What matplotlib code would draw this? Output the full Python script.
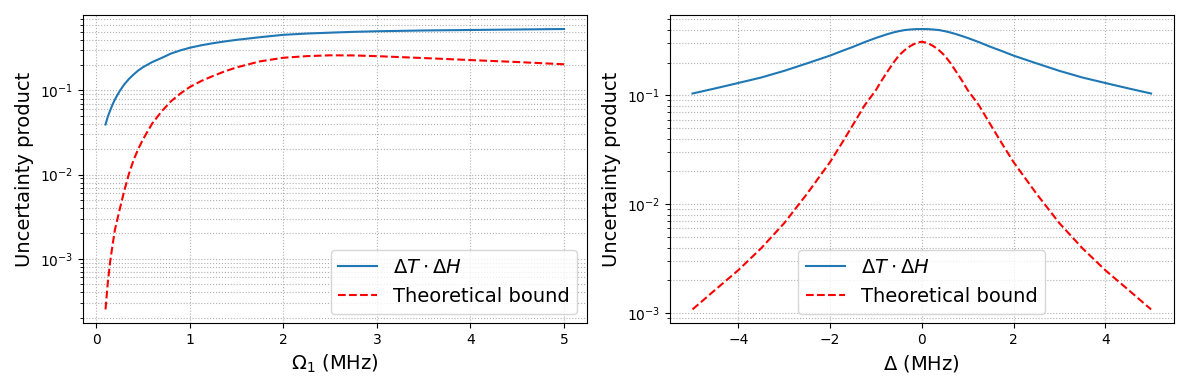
import matplotlib
matplotlib.use('Agg')
import matplotlib.pyplot as plt

# left panel: sweep of Rabi frequency Omega_1 (MHz)
omega = [0.1, 0.125, 0.15, 0.175, 0.2, 0.25, 0.3, 0.35, 0.4, 0.45, 0.5, 0.6, 0.7,
         0.8, 0.9, 1.0, 1.125, 1.25, 1.375, 1.5, 1.75, 2.0, 2.25, 2.5, 2.75,
         3.0, 3.5, 4.0, 4.5, 5.0]
product_omega = [0.0394, 0.049, 0.058, 0.068, 0.078, 0.098, 0.118, 0.137, 0.155,
                 0.173, 0.189, 0.218, 0.244, 0.275, 0.30, 0.322, 0.345, 0.365,
                 0.383, 0.40, 0.43, 0.459, 0.475, 0.487, 0.498, 0.506, 0.517,
                 0.524, 0.531, 0.538]
bound_omega = [2.5e-4, 5.3e-4, 9.3e-4, 1.45e-3, 2.2e-3, 3.8e-3, 6.4e-3, 0.0102,
               0.0149, 0.0202, 0.0262, 0.0407, 0.0565, 0.0745, 0.092, 0.11,
               0.13, 0.149, 0.169, 0.188, 0.222, 0.245, 0.256, 0.262, 0.261,
               0.256, 0.243, 0.230, 0.218, 0.205]

# right panel: sweep of detuning Delta (MHz)
delta = [-5.0, -4.5, -4.0, -3.5, -3.0, -2.5, -2.0, -1.75, -1.5, -1.25, -1.0,
         -0.875, -0.75, -0.625, -0.5, -0.375, -0.25, -0.125, 0.0, 0.125, 0.25,
         0.375, 0.5, 0.625, 0.75, 0.875, 1.0, 1.25, 1.5, 1.75, 2.0, 2.5, 3.0,
         3.5, 4.0, 4.5, 5.0]
product_delta = [0.104, 0.116, 0.130, 0.146, 0.168, 0.197, 0.232, 0.255, 0.279,
                 0.308, 0.337, 0.351, 0.365, 0.378, 0.389, 0.398, 0.403, 0.406,
                 0.407, 0.406, 0.403, 0.398, 0.389, 0.378, 0.365, 0.351, 0.337,
                 0.308, 0.279, 0.255, 0.232, 0.197, 0.168, 0.146, 0.130, 0.116,
                 0.104]
bound_delta = [1.08e-3, 1.64e-3, 2.48e-3, 3.95e-3, 6.7e-3, 0.0125, 0.0244, 0.036,
               0.0537, 0.0806, 0.112, 0.137, 0.165, 0.198, 0.232, 0.26, 0.284,
               0.303, 0.311, 0.303, 0.284, 0.26, 0.232, 0.198, 0.165, 0.137,
               0.112, 0.0806, 0.0537, 0.036, 0.0244, 0.0125, 6.7e-3, 3.95e-3,
               2.48e-3, 1.64e-3, 1.08e-3]

fig, (ax1, ax2) = plt.subplots(1, 2, figsize=(11.89, 3.9), dpi=100)

ax1.plot(omega, product_omega, '-', color='tab:blue', label=r'$\Delta T \cdot \Delta H$')
ax1.plot(omega, bound_omega, 'r--', label='Theoretical bound')
ax1.set_yscale('log')
ax1.set_xlabel(r'$\Omega_1$ (MHz)', fontsize=14)
ax1.set_ylabel('Uncertainty product', fontsize=14)
ax1.grid(True, which='both', linestyle=':')
ax1.legend(fontsize=14, loc='lower right')

ax2.plot(delta, product_delta, '-', color='tab:blue', label=r'$\Delta T \cdot \Delta H$')
ax2.plot(delta, bound_delta, 'r--', label='Theoretical bound')
ax2.set_yscale('log')
ax2.set_xlabel(r'$\Delta$ (MHz)', fontsize=14)
ax2.set_ylabel('Uncertainty product', fontsize=14)
ax2.grid(True, which='both', linestyle=':')
ax2.legend(fontsize=14, loc='lower center')

plt.tight_layout()
plt.savefig('out.png')
